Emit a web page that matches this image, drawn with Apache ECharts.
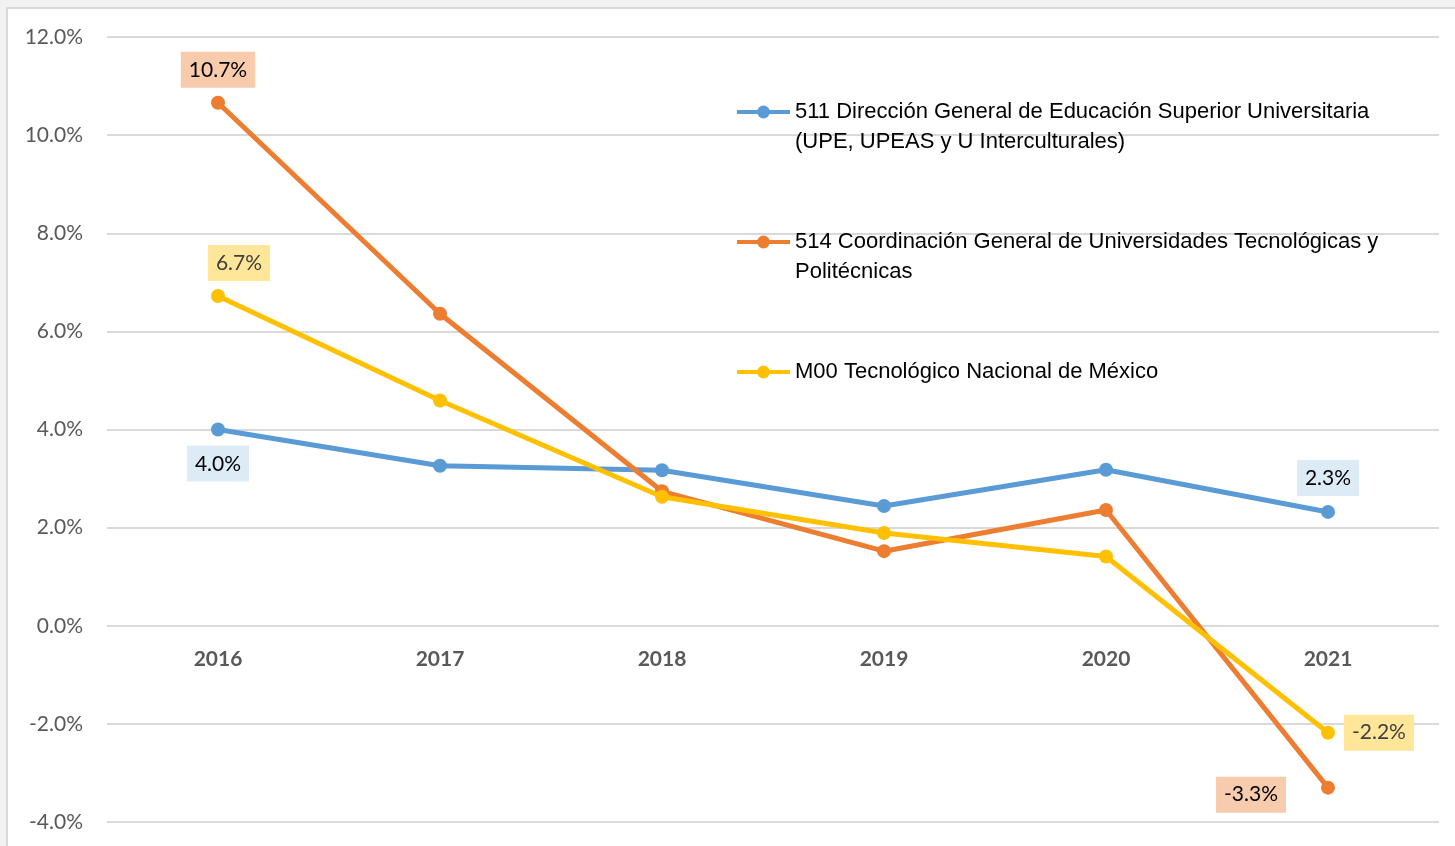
<!DOCTYPE html>
<html>
<head>
<meta charset="utf-8">
<script src="https://cdn.jsdelivr.net/npm/echarts@6/dist/echarts.min.js"></script>
<style>
    html, body { margin: 0; padding: 0; background: #f2f2f2; overflow: hidden; }
    #panel { position: absolute; left: 6px; top: 7px; width: 1500px; height: 900px; background: #fff; border: 2px solid #d9d9d9; }
    #chart { position: absolute; left: 0; top: 0; width: 1455px; height: 846px; }
</style>
</head>
<body>
<div id="panel"></div>
<div id="chart"></div>
<script>
const years = ['2016', '2017', '2018', '2019', '2020', '2021']
const yTicks = [-4, -2, 0, 2, 4, 6, 8, 10, 12]

const dgesu = [4.0, 3.26, 3.17, 2.44, 3.18, 2.32]
const cgutyp = [10.66, 6.36, 2.74, 1.52, 2.36, -3.30]
const tecnm = [6.72, 4.59, 2.63, 1.89, 1.41, -2.18]

const names = [
    '511 Dirección General de Educación Superior Universitaria\n(UPE, UPEAS y U Interculturales)',
    '514 Coordinación General de Universidades Tecnológicas y\nPolitécnicas',
    'M00 Tecnológico Nacional de México'
]
const colors = ['#5b9bd5', '#ed7d31', '#ffc000']

const labelFont = 'Lato, "Open Sans", sans-serif'

// which points get a label box, and how it sits
const boxes = [
    { 0: { position: 'bottom', distance: 9, bg: '#ddebf7', color: '#000' },
      5: { position: 'top', distance: 9, bg: '#ddebf7', color: '#000' } },
    { 0: { position: 'top', distance: 8, bg: '#f8cbad', color: '#000' },
      5: { position: 'left', distance: 35, offset: [0, 7], bg: '#f8cbad', color: '#000' } },
    { 0: { position: 'top', distance: 8, offset: [21, 0], bg: '#ffe699', color: '#404040' },
      5: { position: 'right', distance: 9, bg: '#ffe699', color: '#404040' } }
]

const makeData = (values, idx) => values.map((v, i) => {
    const b = boxes[idx][i]
    if (!b) return v
    return {
        value: v,
        label: {
            show: true,
            position: b.position,
            distance: b.distance,
            offset: b.offset || [0, 0],
            formatter: p => p.value.toFixed(1) + '%',
            backgroundColor: b.bg,
            color: b.color,
            fontFamily: labelFont,
            fontSize: 21,
            padding: [8, 8, 7, 8]
        }
    }
})

const chart = echarts.init(document.getElementById('chart'))

chart.setOption({
    backgroundColor: 'transparent',
    animation: false,
    grid: { left: 107, right: 16, top: 37, bottom: 24, outerBoundsMode: 'none' },
    legend: {
        orient: 'vertical',
        left: 735,
        top: 67,
        padding: 0,
        itemWidth: 53,
        itemHeight: 16,
        itemGap: 40,
        lineStyle: { width: 4 },
        textStyle: {
            fontFamily: '"Liberation Sans", Arial, sans-serif',
            fontSize: 22,
            color: '#000',
            lineHeight: 30
        },
        // blank lines keep the marker on the first text line, like Excel does
        formatter: name => name.includes('\n') ? ' \n' + name : ' \n' + name + '\n ',
        data: names
    },
    xAxis: {
        type: 'category',
        data: years,
        boundaryGap: true,
        axisLine: { show: false, onZero: false },
        axisTick: { show: false },
        axisLabel: {
            // Excel draws the year labels just under the 0% line
            margin: -173,
            color: '#595959',
            fontFamily: labelFont,
            fontWeight: 'bold',
            fontSize: 21
        }
    },
    yAxis: {
        type: 'value',
        min: yTicks[0],
        max: yTicks[yTicks.length - 1],
        interval: 2,
        axisLine: { show: false },
        axisTick: { show: false },
        axisLabel: {
            margin: 24,
            color: '#595959',
            fontFamily: labelFont,
            fontSize: 21,
            formatter: v => v.toFixed(1) + '%'
        },
        splitLine: { lineStyle: { color: '#d9d9d9', width: 2 } }
    },
    series: [dgesu, cgutyp, tecnm].map((vals, i) => ({
        name: names[i],
        type: 'line',
        data: makeData(vals, i),
        symbol: 'circle',
        symbolSize: 14,
        color: colors[i],
        lineStyle: { width: 5, color: colors[i] },
        itemStyle: { color: colors[i] },
        z: 3 + i
    }))
})
</script>
</body>
</html>
